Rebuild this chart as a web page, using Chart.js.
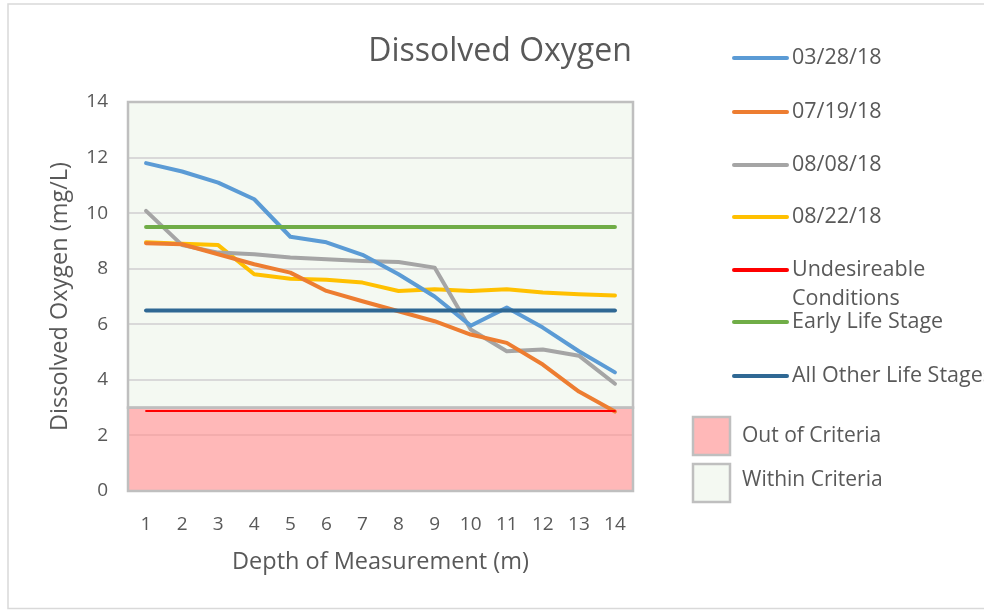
<!DOCTYPE html>
<html><head><meta charset="utf-8">
<script src="https://cdn.jsdelivr.net/npm/chart.js@4.4.1/dist/chart.umd.min.js"></script>
<style>html,body{margin:0;padding:0;background:#fff;}#wrap{position:relative;width:984px;height:610px;}</style>
</head><body><div id="wrap"><canvas id="c" width="984" height="610"></canvas></div>
<script>
// ---- data ----
const depths = ['1','2','3','4','5','6','7','8','9','10','11','12','13','14'];
const do_032818 = [11.8, 11.5, 11.1, 10.5, 9.15, 8.95, 8.5, 7.8, 7.0, 5.95, 6.6, 5.88, 5.03, 4.27];
const do_071918 = [8.92, 8.88, 8.52, 8.16, 7.86, 7.2, 6.83, 6.47, 6.11, 5.63, 5.33, 4.55, 3.58, 2.86];
const do_080818 = [10.08, 8.85, 8.58, 8.52, 8.4, 8.34, 8.28, 8.24, 8.04, 5.81, 5.03, 5.09, 4.87, 3.86];
const do_082218 = [8.95, 8.9, 8.85, 7.8, 7.64, 7.6, 7.5, 7.2, 7.26, 7.2, 7.26, 7.14, 7.08, 7.04];
const undesirableLevel = [2.88, 2.88, 2.88, 2.88, 2.88, 2.88, 2.88, 2.88, 2.88, 2.88, 2.88, 2.88, 2.88, 2.88];
const earlyLifeLevel = [9.5, 9.5, 9.5, 9.5, 9.5, 9.5, 9.5, 9.5, 9.5, 9.5, 9.5, 9.5, 9.5, 9.5];
const otherLifeLevel = [6.5, 6.5, 6.5, 6.5, 6.5, 6.5, 6.5, 6.5, 6.5, 6.5, 6.5, 6.5, 6.5, 6.5];
const seriesLabels = ['03/28/18', '07/19/18', '08/08/18', '08/22/18'];
const criteriaLabels = ['Undesireable Conditions', 'Early Life Stage', 'All Other Life Stages'];
const zoneLabels = ['Out of Criteria', 'Within Criteria'];
const outOfCriteriaRange = [0, 3];
const withinCriteriaRange = [3, 14];
const yTicks = [0, 2, 4, 6, 8, 10, 12, 14];

const FONT = "'Open Sans', 'Noto Sans', sans-serif";
const TXT = '#595959';
const colors = ['#5b9bd5', '#ed7d31', '#a5a5a5', '#ffc000', '#ff0000', '#70ad47', '#2f6894'];
const PINK = 'rgba(255,150,150,0.68)';
const PALEGREEN = '#f4f9f2';

function ds(label, data, color, order, width) {
  return { label, data, borderColor: color, backgroundColor: color, borderWidth: width || 4,
    pointRadius: 0, pointHoverRadius: 0, tension: 0, borderCapStyle: 'round', borderJoinStyle: 'round', order, fill: false };
}

const zonesPlugin = {
  id: 'zones',
  beforeDraw(chart) {
    const ctx = chart.ctx, ca = chart.chartArea, y = chart.scales.y;
    ctx.save();
    ctx.fillStyle = '#fff';
    ctx.fillRect(0, 0, chart.width, chart.height);
    ctx.strokeStyle = '#d9d9d9';
    ctx.lineWidth = 1.5;
    ctx.strokeRect(8, 4, 1100, 604.5);
    const t = y.getPixelForValue(withinCriteriaRange[1]);
    const b = y.getPixelForValue(withinCriteriaRange[0]);
    ctx.fillStyle = PALEGREEN;
    ctx.fillRect(ca.left, t, ca.right - ca.left, b - t);
    ctx.restore();
  },
  beforeDatasetsDraw(chart) {
    const ctx = chart.ctx, ca = chart.chartArea, y = chart.scales.y;
    ctx.save();
    const t = y.getPixelForValue(outOfCriteriaRange[1]);
    const b = y.getPixelForValue(outOfCriteriaRange[0]);
    ctx.fillStyle = PINK;
    ctx.fillRect(ca.left, t, ca.right - ca.left, b - t);
    ctx.strokeStyle = '#bfbfbf';
    ctx.lineWidth = 2.5;
    const t2 = y.getPixelForValue(withinCriteriaRange[1]);
    const b2 = y.getPixelForValue(withinCriteriaRange[0]);
    ctx.strokeRect(ca.left, t2, ca.right - ca.left, b2 - t2);
    ctx.strokeRect(ca.left, t, ca.right - ca.left, b - t);
    ctx.restore();
  },
  afterDraw(chart) {
    const ctx = chart.ctx;
    ctx.save();
    ctx.fillStyle = TXT;
    ctx.textBaseline = 'middle';
    ctx.textAlign = 'center';
    ctx.font = '32px ' + FONT;
    ctx.fillText('Dissolved Oxygen', 500, 52);
    const items = [
      [seriesLabels[0], colors[0], [58]],
      [seriesLabels[1], colors[1], [112]],
      [seriesLabels[2], colors[2], [165]],
      [seriesLabels[3], colors[3], [217]],
      ['Undesireable|Conditions', colors[4], [270, 299]],
      [criteriaLabels[1], colors[5], [322]],
      [criteriaLabels[2], colors[6], [376]]
    ];
    ctx.textAlign = 'left';
    ctx.font = '21.5px ' + FONT;
    ctx.lineCap = 'round';
    items.forEach(([lab, col, ys]) => {
      ctx.strokeStyle = col;
      ctx.lineWidth = 4;
      ctx.beginPath();
      ctx.moveTo(734, ys[0]);
      ctx.lineTo(787, ys[0]);
      ctx.stroke();
      ctx.fillStyle = TXT;
      lab.split('|').forEach((l, i) => ctx.fillText(l, 792, ys[i]));
    });
    const boxes = [[zoneLabels[0], PINK, 417, 436], [zoneLabels[1], PALEGREEN, 464, 480]];
    ctx.font = '21px ' + FONT;
    boxes.forEach(([lab, col, top, ty]) => {
      ctx.fillStyle = col;
      ctx.fillRect(693, top, 37, 38);
      ctx.strokeStyle = '#bfbfbf';
      ctx.lineWidth = 2.5;
      ctx.strokeRect(693, top, 37, 38);
      ctx.fillStyle = TXT;
      ctx.fillText(lab, 742, ty);
    });
    ctx.restore();
  }
};

new Chart(document.getElementById('c'), {
  type: 'line',
  data: {
    labels: depths,
    datasets: [
      ds(seriesLabels[0], do_032818, colors[0], 2),
      ds(seriesLabels[1], do_071918, colors[1], 2),
      ds(seriesLabels[2], do_080818, colors[2], 2),
      ds(seriesLabels[3], do_082218, colors[3], 2),
      ds(criteriaLabels[0], undesirableLevel, colors[4], 1, 2),
      ds(criteriaLabels[1], earlyLifeLevel, colors[5], 1),
      ds(criteriaLabels[2], otherLifeLevel, colors[6], 1)
    ]
  },
  options: {
    responsive: false,
    animation: false,
    layout: { padding: { left: 0, top: 102, right: 351, bottom: 0 } },
    plugins: { legend: { display: false }, title: { display: false }, tooltip: { enabled: false } },
    scales: {
      x: {
        offset: true,
        grid: { display: false, drawTicks: false },
        border: { display: false },
        ticks: { color: TXT, font: { family: FONT, size: 19 }, padding: 22, maxRotation: 0 },
        title: { display: true, text: 'Depth of Measurement (m)', color: TXT, font: { family: FONT, size: 23.5 }, padding: { top: 0, bottom: 34 } },
        afterFit(s) { s.height = 119; }
      },
      y: {
        min: 0, max: 14,
        afterBuildTicks(s) { s.ticks = yTicks.map(v => ({ value: v })); },
        grid: { color: '#d9d9d9', lineWidth: 2, drawTicks: false },
        border: { display: false },
        ticks: { color: TXT, font: { family: FONT, size: 19 }, padding: 20 },
        title: { display: true, text: 'Dissolved Oxygen (mg/L)', color: TXT, font: { family: FONT, size: 23.5 }, padding: { top: 46, bottom: 0 } },
        afterFit(s) { s.width = 128; }
      }
    }
  },
  plugins: [zonesPlugin]
});
</script>
</body></html>
